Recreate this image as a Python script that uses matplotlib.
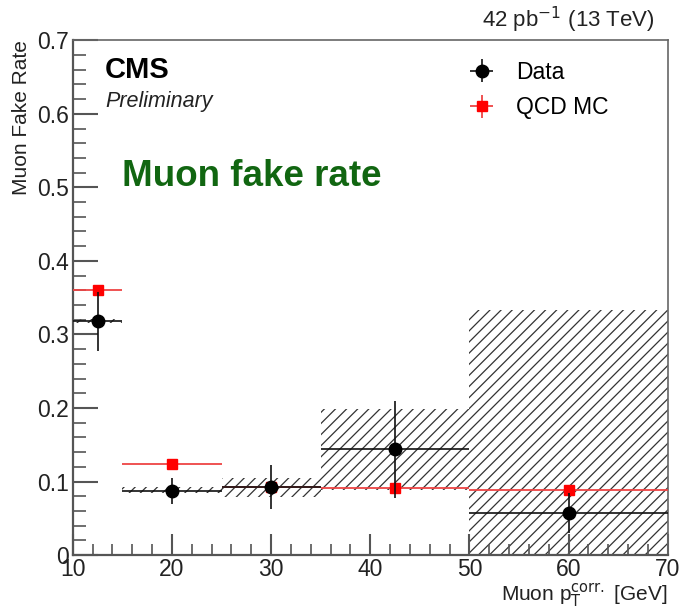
import matplotlib
matplotlib.use("Agg")
import matplotlib.pyplot as plt
import numpy as np
from matplotlib.ticker import MultipleLocator

plt.rcParams['font.family'] = ['Liberation Sans', 'DejaVu Sans']
plt.rcParams['hatch.linewidth'] = 0.9

# pT bins [GeV]
bin_edges = [10, 15, 25, 35, 50, 70]
data_centers = [12.5, 20, 30, 42.5, 60]

# fake rate measured in data, stat errors, and systematic band
data_rate = [0.318, 0.087, 0.092, 0.144, 0.057]
data_err = [0.040, 0.018, 0.030, 0.066, 0.027]
syst_lo = [0.315, 0.085, 0.079, 0.088, 0.0]
syst_hi = [0.321, 0.093, 0.105, 0.198, 0.333]

# QCD simulation
mc_rate = [0.361, 0.124, 0.093, 0.091, 0.089]
mc_err = [0.003, 0.003, 0.003, 0.003, 0.003]

edges = np.array(bin_edges)
lefts = edges[:-1]
widths = np.diff(edges)
xc = np.array(data_centers)
xerr = [xc - lefts, edges[1:] - xc]

fig = plt.figure(figsize=(6.8, 6.1), dpi=100)
ax = fig.add_axes([0.107, 0.090, 0.875, 0.844])

# systematic band (hatched)
ax.bar(lefts, np.array(syst_hi) - np.array(syst_lo), bottom=syst_lo, width=widths,
       align='edge', fill=False, hatch='///', edgecolor='#333333', linewidth=0, zorder=1)

ax.errorbar(xc, mc_rate, xerr=xerr, yerr=mc_err, fmt='s', color='#ff0000',
            ecolor='#ee4444', elinewidth=1.3, markersize=7.5, capsize=0, zorder=3,
            label='QCD MC')
ax.errorbar(xc, data_rate, xerr=xerr, yerr=data_err, fmt='o', color='black',
            ecolor='#111111', elinewidth=1.2, markersize=9, capsize=0, zorder=4,
            label='Data')

ax.set_xlim(10, 70)
ax.set_ylim(0, 0.7)
ax.xaxis.set_major_locator(MultipleLocator(10))
ax.xaxis.set_minor_locator(MultipleLocator(2))
ax.yaxis.set_minor_locator(MultipleLocator(0.02))
ax.set_yticks(np.arange(0, 0.71, 0.1))
ax.set_yticklabels(['0', '0.1', '0.2', '0.3', '0.4', '0.5', '0.6', '0.7'])
ax.tick_params(which='both', direction='in', top=False, right=False,
               labelsize=16.5, colors='#555555', labelcolor='#222222')
ax.tick_params(axis='y', which='major', length=18, width=1.5, pad=3)
ax.tick_params(axis='y', which='minor', length=9, width=1.2)
ax.tick_params(axis='x', which='major', length=15, width=1.5, pad=2)
ax.tick_params(axis='x', which='minor', length=8, width=1.2)
for side in ['left', 'bottom']:
    ax.spines[side].set_color('#555555')
    ax.spines[side].set_linewidth(1.6)
for side in ['top', 'right']:
    ax.spines[side].set_color('#666666')
    ax.spines[side].set_linewidth(1.2)

ax.set_ylabel('Muon Fake Rate', loc='top', fontsize=15, color='#222222', labelpad=4)
ax.set_xlabel(r'Muon p$_{\mathrm{T}}^{\mathrm{corr.}}$ [GeV]', loc='right',
              fontsize=15, color='#222222', labelpad=0.5)

ax.text(0.054, 0.942, 'CMS', transform=ax.transAxes, fontsize=21,
        fontweight='bold', va='center', ha='left')
ax.text(0.054, 0.882, 'Preliminary', transform=ax.transAxes, fontsize=15.5,
        style='italic', va='center', ha='left', color='#222222')
ax.text(0.082, 0.736, 'Muon fake rate', transform=ax.transAxes, fontsize=26.5,
        fontweight='bold', va='center', ha='left', color='#116611')
ax.text(1.0 - 0.022, 1.04, r'42 pb$^{\mathsf{-1}}$ (13 TeV)', transform=ax.transAxes,
        fontsize=16, va='center', ha='right', color='#222222')

handles, labels = ax.get_legend_handles_labels()
ax.legend(handles[::-1], labels[::-1], loc='upper left', bbox_to_anchor=(0.61, 1.0),
          frameon=False, fontsize=16.5, handlelength=2.2, handletextpad=0.4,
          labelspacing=0.55)

fig.savefig('out.png', dpi=100)
